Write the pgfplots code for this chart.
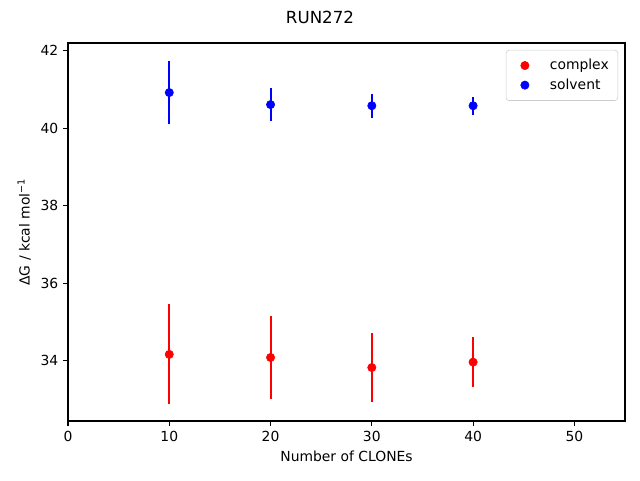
\documentclass[border=0pt]{standalone}
\usepackage{fontspec}
\setmainfont{DejaVu Sans}
\usepackage{pgfplots}
\pgfplotsset{compat=1.18}
\pgfplotsset{mylegimg/.style={legend image code/.code={\path[draw=none] (0pt,0pt) -- (25pt,0pt); \path[draw=none,mark repeat=2,mark phase=2] plot coordinates {(0pt,0pt)(10pt,0pt)(20pt,0pt)};}}}
\begin{document}
\begin{tikzpicture}
\begin{axis}[
  name=ax,
  scale only axis, width=401.04pt, height=272.16pt,
  xmin=0, xmax=55, ymin=32.44, ymax=42.2,
  xtick={0,10,20,30,40,50}, ytick={34,36,38,40,42},
  tick align=outside, tick pos=left, major tick length=3.5pt,
  tick style={black, line width=0.8pt},
  axis line style={line width=0.8pt},
  /pgf/number format/assume math mode=true,
  ticklabel style={font=\fontsize{10}{12}\selectfont},
  xlabel={Number of CLONEs},
  ylabel={ΔG / kcal mol\textsuperscript{−1}},
  label style={font=\fontsize{10}{12}\selectfont},
  legend style={at={(1,1)}, xshift=-5pt, yshift=-5pt, anchor=north east,
    draw=black!20, rounded corners=2pt, font=\fontsize{10}{12}\selectfont,
    inner sep=3.5pt, row sep=-1pt, nodes={inner sep=3pt}},
  legend cell align=left,
]
\addplot+[only marks, mylegimg, mark=*, color=red, mark options={fill=red, draw=red}, mark size=3pt,
  error bars/.cd, y dir=both, y explicit, error mark=none,
  error bar style={line width=1.5pt, red}]
  coordinates {
    (10,34.16) +- (0,1.29)
    (20,34.08) +- (0,1.06)
    (30,33.82) +- (0,0.89)
    (40,33.96) +- (0,0.64)
  };
\addlegendentry{complex}
\addplot+[only marks, mylegimg, mark=*, color=blue, mark options={fill=blue, draw=blue}, mark size=3pt,
  error bars/.cd, y dir=both, y explicit, error mark=none,
  error bar style={line width=1.5pt, blue}]
  coordinates {
    (10,40.92) +- (0,0.82)
    (20,40.61) +- (0,0.42)
    (30,40.58) +- (0,0.31)
    (40,40.58) +- (0,0.23)
  };
\addlegendentry{solvent}
\end{axis}
\node[font=\fontsize{12}{14}\selectfont, anchor=center] at ([xshift=-19.08pt,yshift=18.72pt]ax.north) {RUN272};
\path[use as bounding box] ([xshift=-48.96pt,yshift=-42.48pt]ax.south west) rectangle ([xshift=10.8pt,yshift=30.96pt]ax.north east);
\end{tikzpicture}
\end{document}
